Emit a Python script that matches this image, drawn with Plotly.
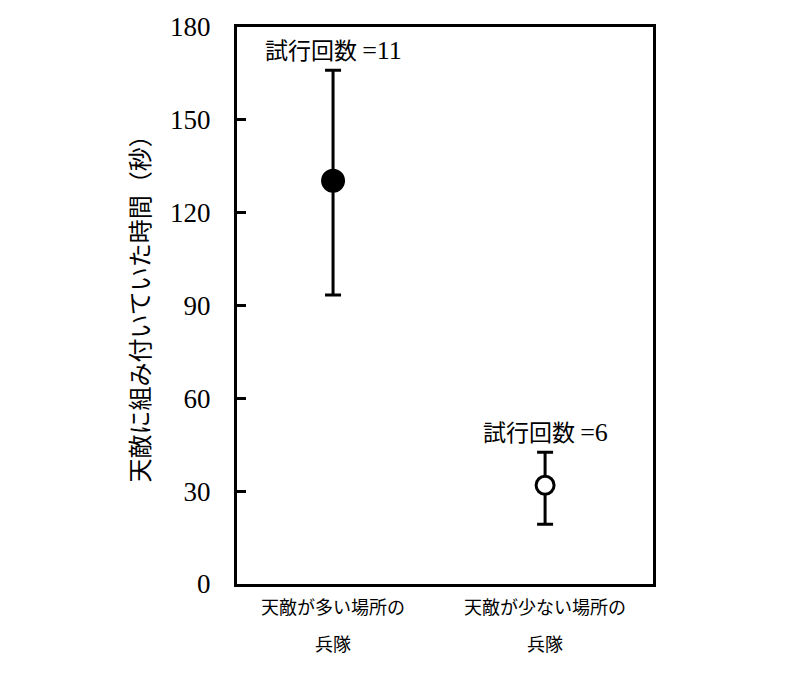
import plotly.graph_objects as go

# Groups of soldiers (two-line category labels)
categories = [("天敵が多い場所の", "兵隊"), ("天敵が少ない場所の", "兵隊")]
mean_time = [130.3, 31.9]       # seconds spent grappling with the predator
upper = [166.0, 42.6]           # top of error bar
lower = [93.4, 19.3]            # bottom of error bar
n_trials = [11, 6]
filled = [True, False]

y_ticks = [0, 30, 60, 90, 120, 150, 180]

x_pos = list(range(len(categories)))
err_plus = [u - m for u, m in zip(upper, mean_time)]
err_minus = [m - l for m, l in zip(mean_time, lower)]

SERIF = "Liberation Serif, Times New Roman, serif"
CJK = "Noto Sans CJK JP, sans-serif"

fig = go.Figure()
for i in x_pos:
    fig.add_trace(go.Scatter(
        x=[i], y=[mean_time[i]],
        mode="markers",
        marker=dict(
            size=21 if filled[i] else 18,
            color="black" if filled[i] else "white",
            line=dict(color="black", width=3),
        ),
        error_y=dict(
            type="data", symmetric=False,
            array=[err_plus[i]], arrayminus=[err_minus[i]],
            color="black", thickness=3, width=8,
        ),
        showlegend=False,
        cliponaxis=False,
    ))

annotations = []
# Trial counts above each error bar
for i in x_pos:
    annotations.append(dict(
        x=i, y=upper[i], xref="x", yref="y",
        yshift=21, yanchor="middle", xanchor="center",
        text=(f"<span style='font-family:{CJK};font-size:23px'>試行回数 </span>"
              f"={n_trials[i]}"),
        showarrow=False,
        font=dict(family=SERIF, size=26, color="black"),
    ))

# Category labels below the axis, one annotation per line
for i, (line1, line2) in enumerate(categories):
    annotations.append(dict(
        x=i, y=0, xref="x", yref="paper", yshift=-22,
        text=line1, showarrow=False, xanchor="center", yanchor="middle",
        font=dict(family=CJK, size=18, color="black"),
    ))
    annotations.append(dict(
        x=i, y=0, xref="x", yref="paper", yshift=-59,
        text=line2, showarrow=False, xanchor="center", yanchor="middle",
        font=dict(family=CJK, size=18, color="black"),
    ))

# Y-axis title
annotations.append(dict(
    x=-0.236, y=0.505, xref="paper", yref="paper",
    text="天敵に組み付いていた時間（秒）", textangle=-90,
    showarrow=False, xanchor="center", yanchor="middle",
    font=dict(family=CJK, size=24, color="black"),
))

fig.update_layout(
    width=786, height=684,
    margin=dict(l=237, r=133, t=25, b=100),
    paper_bgcolor="white", plot_bgcolor="white",
    annotations=annotations,
    xaxis=dict(
        range=[-0.453, 1.509], showticklabels=False, ticks="",
        showgrid=False, zeroline=False,
        showline=True, linecolor="black", linewidth=3, mirror=True,
    ),
    yaxis=dict(
        range=[0, 180], tickvals=y_ticks,
        ticks="inside", ticklen=9, tickwidth=3, tickcolor="black",
        ticklabelstandoff=18,
        tickfont=dict(family=SERIF, size=27, color="black"),
        showgrid=False, zeroline=False,
        showline=True, linecolor="black", linewidth=3, mirror=True,
    ),
)

fig.write_html("out.html")
